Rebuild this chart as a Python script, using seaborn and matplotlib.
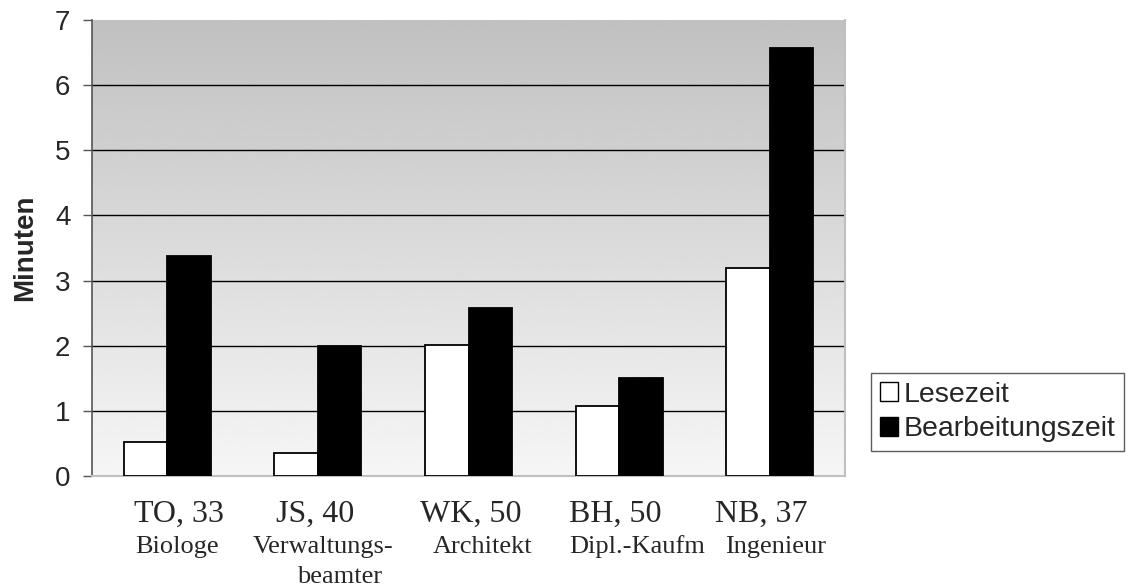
import numpy as np
import pandas as pd
import matplotlib.pyplot as plt
import seaborn as sns
from matplotlib.patches import Patch

# data
personen = ['TO, 33', 'JS, 40', 'WK, 50', 'BH, 50', 'NB, 37']
berufe = ['Biologe', 'Verwaltungs-\nbeamter', 'Architekt', 'Dipl.-Kaufm', 'Ingenieur']
serien = ['Lesezeit', 'Bearbeitungszeit']
lesezeit = [0.52, 0.35, 2.01, 1.07, 3.20]
bearbeitungszeit = [3.37, 2.00, 2.58, 1.51, 6.57]
y_ticks = [0, 1, 2, 3, 4, 5, 6, 7]

df = pd.DataFrame({
    'Person': personen * 2,
    'Serie': [serien[0]] * len(personen) + [serien[1]] * len(personen),
    'Minuten': lesezeit + bearbeitungszeit,
})

sns.set_style('white')
plt.rcParams['font.family'] = ['Liberation Sans', 'DejaVu Sans']

fig = plt.figure(figsize=(11.32, 5.88), dpi=100)
ax = fig.add_axes([92 / 1132, 1 - 476 / 588, (845 - 92) / 1132, (476 - 20) / 588])

# gray -> white gradient in the plot area
grad = np.linspace(0.755, 0.965, 256).reshape(-1, 1)
ax.imshow(grad, cmap='gray', vmin=0, vmax=1, aspect='auto', extent=[0, 1, 0, 1],
          transform=ax.transAxes, zorder=0, interpolation='bicubic')

sns.barplot(data=df, x='Person', y='Minuten', hue='Serie', hue_order=serien,
            palette=['white', 'black'], edgecolor='black', linewidth=1.3,
            width=0.577, dodge=True, legend=False, ax=ax, zorder=3)

ax.set_xlim(-0.5, len(personen) - 0.5)
ax.set_ylim(0, 7)
ax.set_yticks(y_ticks)
ax.set_yticklabels([str(t) for t in y_ticks], fontsize=20)
ax.tick_params(axis='y', length=6.5, width=1, color='#555555', pad=9, direction='out', left=True)
ax.tick_params(axis='x', length=0)
ax.set_xticks(range(len(personen)))
ax.set_xticklabels([])
ax.set_xlabel('')
ax.set_ylabel('Minuten', fontsize=20, fontweight='bold', labelpad=12)

for t in y_ticks[1:-1]:
    ax.axhline(t, color='black', lw=1, zorder=1)

ax.spines['top'].set_visible(False)
ax.spines['left'].set_color('#555555')
ax.spines['left'].set_linewidth(1.2)
ax.spines['bottom'].set_color('#c0c0c0')
ax.spines['right'].set_color('#c0c0c0')
ax.spines['bottom'].set_linewidth(1.5)
ax.spines['right'].set_linewidth(1.5)

# category labels: two lines in serif, slightly off-centre like the original
kopf_dx = [12, -3, 2, -4, -8]
beruf_dx = [[10], [5, 22], [14], [18], [6]]
for i, (p, b) in enumerate(zip(personen, berufe)):
    ax.annotate(p, xy=(i, 0), xycoords=('data', 'axes fraction'),
                xytext=(kopf_dx[i] * 0.72, -46 * 0.72), textcoords='offset points',
                ha='center', va='baseline', fontsize=23, family='Liberation Serif')
    for j, zeile in enumerate(b.split('\n')):
        ax.annotate(zeile, xy=(i, 0), xycoords=('data', 'axes fraction'),
                    xytext=(beruf_dx[i][j] * 0.72, -(77 + 30 * j) * 0.72),
                    textcoords='offset points', ha='center', va='baseline',
                    fontsize=19, family='Liberation Serif')

handles = [Patch(facecolor=c, edgecolor='black', linewidth=1) for c in ['white', 'black']]
leg = fig.legend(handles, serien, loc='upper left', bbox_to_anchor=(871 / 1132, 1 - 373 / 588),
                 frameon=True, fancybox=False, edgecolor='#333333', fontsize=20.5,
                 handlelength=0.65, handleheight=0.65, handletextpad=0.2,
                 borderpad=0.3, labelspacing=0.3, borderaxespad=0)
leg.get_frame().set_linewidth(1)

fig.savefig('out.png', dpi=100)
